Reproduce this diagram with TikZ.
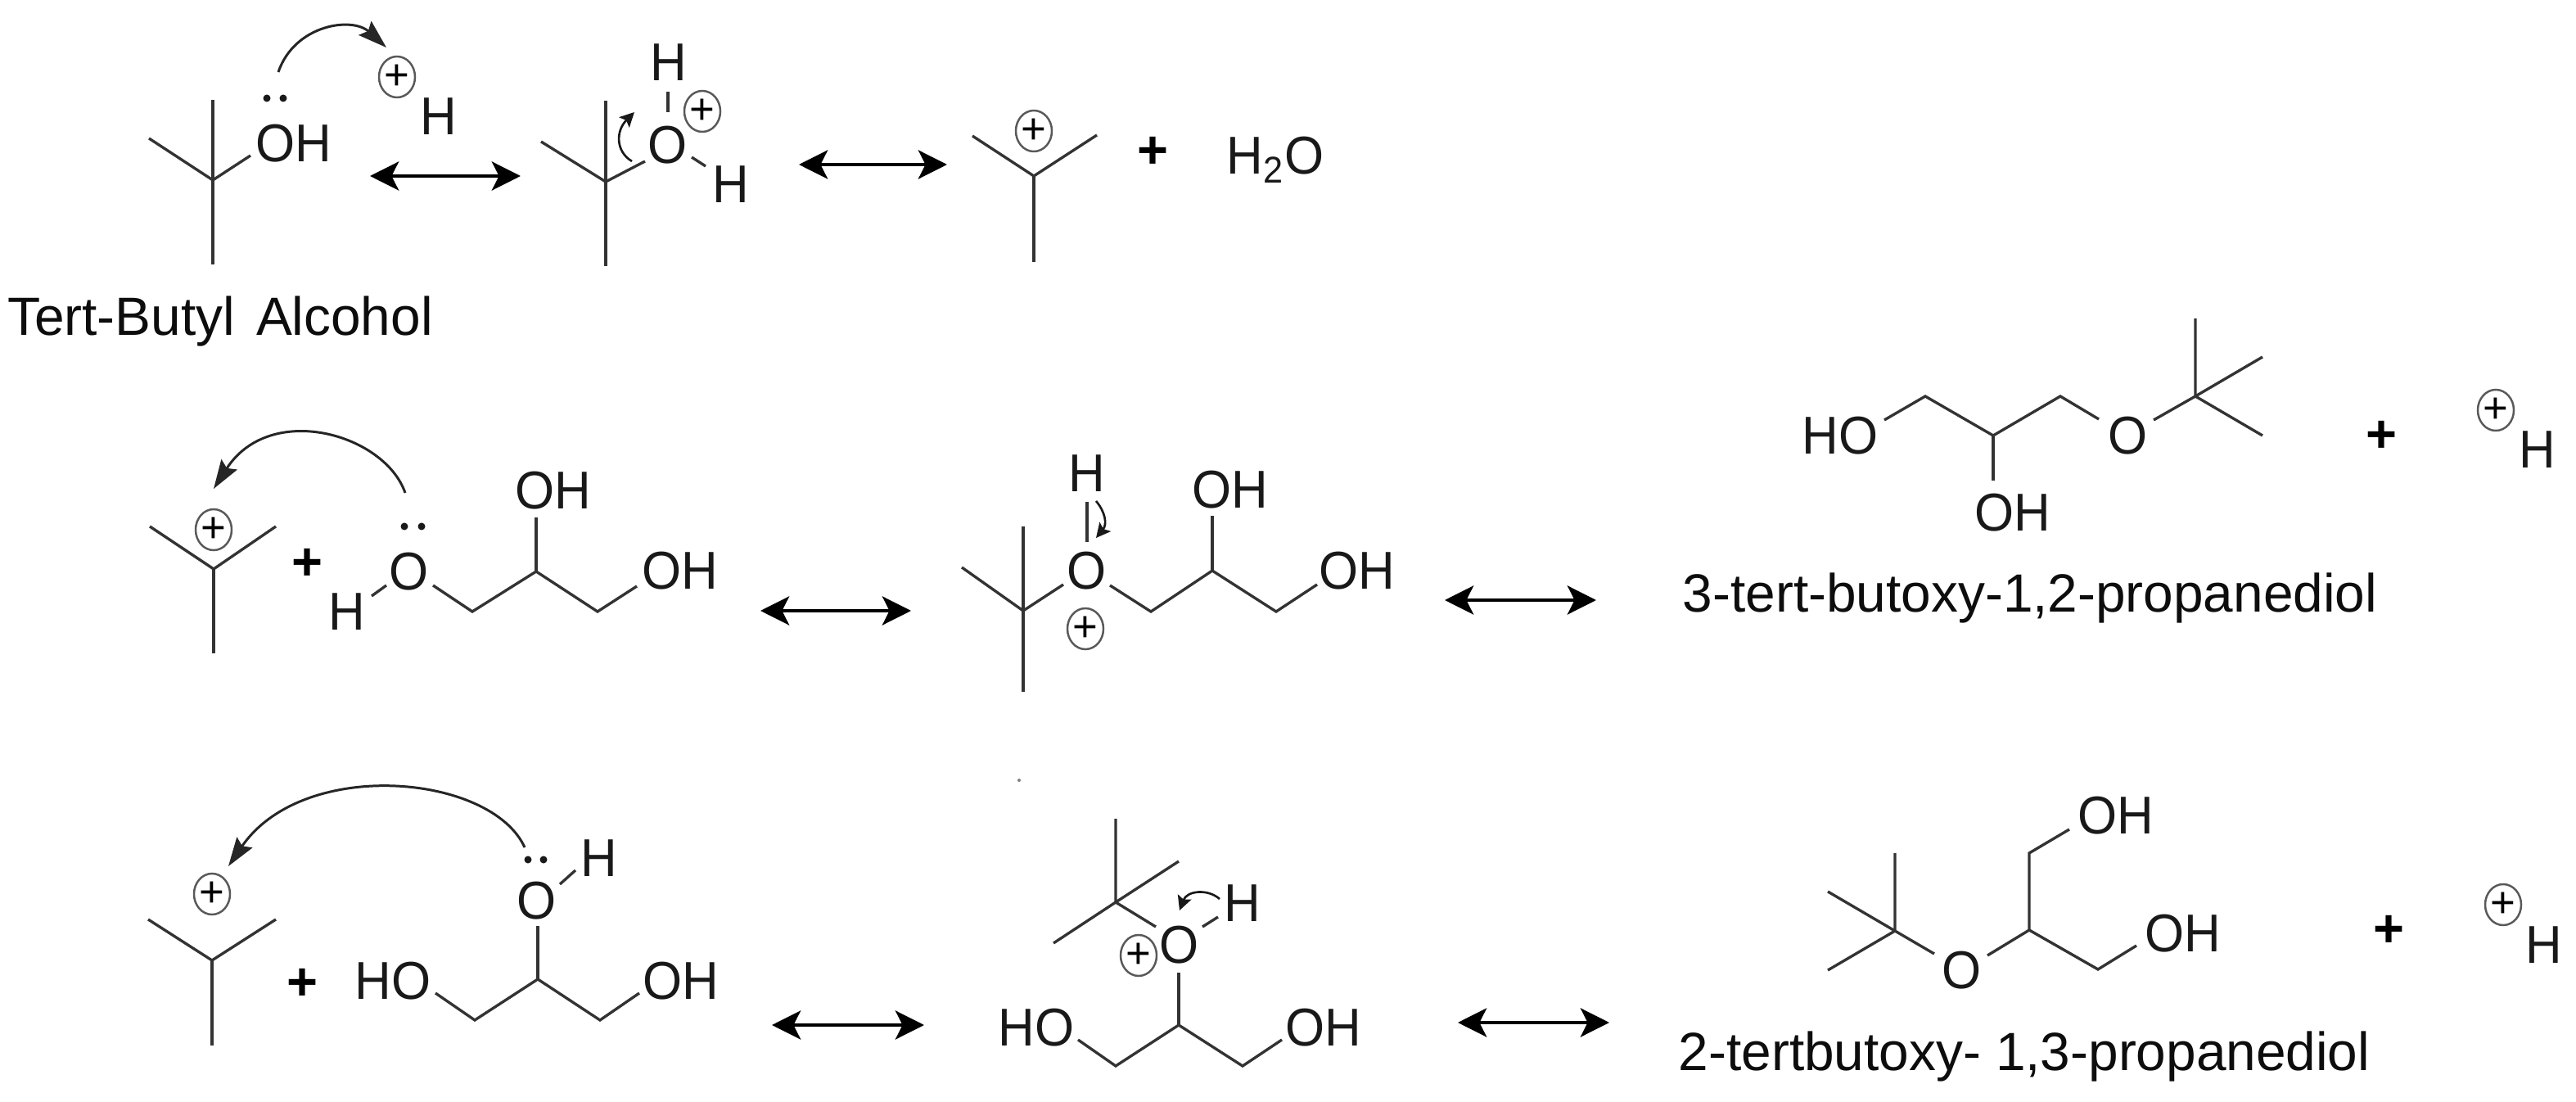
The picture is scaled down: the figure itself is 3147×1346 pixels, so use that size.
\documentclass[tikz,border=0pt]{standalone}
\usepackage{fontspec}
\setmainfont{Liberation Sans}
\newfontfamily\atomfont[FakeStretch=0.95]{Liberation Sans}
\usetikzlibrary{arrows.meta,shapes.geometric}
\newcommand{\chemsize}{\fontsize{18.5pt}{22pt}\selectfont}
\newcommand{\labelsize}{\fontsize{18.7pt}{22pt}\selectfont}
\newcommand{\chgsize}{\fontsize{15pt}{18pt}\selectfont}
\tikzset{
  atomlabel/.style={font=\chemsize\atomfont,inner sep=0pt,outer sep=0pt,anchor=base,text=black!90},
  namelabel/.style={font=\labelsize,inner sep=0pt,outer sep=0pt,anchor=base,text=black!95},
  signlabel/.style={font=\chemsize\bfseries,inner sep=0pt,outer sep=0pt,anchor=center,text=black},
  chg/.style={ellipse,draw=black!65,line width=0.7pt,font=\chgsize,inner sep=0pt,
    minimum width=0.44cm,minimum height=0.50cm,text=black},
  lonepair/.style={circle,fill=black!90,inner sep=0pt,minimum size=0.09cm},
  bond/.style={line width=0.95pt,draw=black!80,line join=miter},
  eq/.style={line width=1.15pt,draw=black,{Stealth[length=10pt,width=10pt,inset=2.5pt]}-{Stealth[length=10pt,width=10pt,inset=2.5pt]}},
  curly/.style={line width=0.85pt,draw=black!85,-{Stealth[length=10pt,width=6.5pt,inset=1.5pt]}},
  curlysmall/.style={line width=0.75pt,draw=black!90,-{Stealth[length=5pt,width=5pt,inset=1pt]}},
}
\begin{document}
\begin{tikzpicture}[x=0.01cm,y=-0.01cm]
\useasboundingbox (0,0) rectangle (3147,1346);
\fill[white] (0,0) rectangle (3147,1346);

% ---------- row 1 ----------
\node[atomlabel] (aOH) at (359,198) {OH};
\node[atomlabel] (aH) at (536,165) {H};
\node[chg] (aC) at (485,94) {+};
\node[lonepair] (aD1) at (326,120) {};
\node[lonepair] (aD2) at (346,120) {};
\node[namelabel] (lblA) at (269,410) {Tert-Butyl\hspace{0.12em} Alcohol};
\coordinate (a0) at (260,220);
\coordinate (a1) at (260,122);
\coordinate (a2) at (260,323);
\coordinate (a3) at (182,169);
\coordinate (a4) at (306,190);
\draw[bond] (a1) -- (a2);
\draw[bond] (a3) -- (a0) -- (a4);
\coordinate (aS) at (340,88);
\coordinate (aT) at (472,58);
\draw[curly] (aS) .. controls (360,30) and (430,20) .. (aT);

\coordinate (e1a) at (452,215);
\coordinate (e1b) at (636,215);
\draw[eq] (e1a) -- (e1b);

\node[atomlabel] (bO) at (816,200) {O};
\node[atomlabel] (bH1) at (817,99) {H};
\node[atomlabel] (bH2) at (893,248) {H};
\node[chg] (bC) at (858,136) {+};
\coordinate (b0) at (740,222);
\coordinate (b1) at (740,123);
\coordinate (b2) at (740,325);
\coordinate (b3) at (661,173);
\coordinate (b4) at (788,197);
\coordinate (b5) at (816,112);
\coordinate (b6) at (816,137);
\coordinate (b7) at (845,192);
\coordinate (b8) at (862,203);
\draw[bond] (b1) -- (b2);
\draw[bond] (b3) -- (b0) -- (b4);
\draw[bond] (b5) -- (b6);
\draw[bond] (b7) -- (b8);
\coordinate (bS) at (772,197);
\coordinate (bT) at (775,137);
\draw[curlysmall] (bS) .. controls (752,185) and (752,160) .. (bT);

\coordinate (e2a) at (976,201);
\coordinate (e2b) at (1157,201);
\draw[eq] (e2a) -- (e2b);

\node[chg] (cC) at (1263,160) {+};
\coordinate (c0) at (1263,215);
\coordinate (c1) at (1188,166);
\coordinate (c2) at (1340,165);
\coordinate (c3) at (1263,320);
\draw[bond] (c1) -- (c0) -- (c2);
\draw[bond] (c0) -- (c3);
\node[signlabel] (cPlus) at (1408,186) {+};
\node[atomlabel] (cW) at (1558,213) {H\textsubscript{2}O};

% ---------- row 2 ----------
\node[chg] (dC) at (261,647) {+};
\coordinate (d0) at (261,695);
\coordinate (d1) at (183,643);
\coordinate (d2) at (337,643);
\coordinate (d3) at (261,798);
\draw[bond] (d1) -- (d0) -- (d2);
\draw[bond] (d0) -- (d3);
\node[signlabel] (dPlus) at (375,689) {+};
\node[atomlabel] (dO) at (500,721) {O};
\node[atomlabel] (dH) at (424,770) {H};
\node[atomlabel] (dOH1) at (676,622) {OH};
\node[atomlabel] (dOH2) at (831,720) {OH};
\node[lonepair] (dD1) at (494,643) {};
\node[lonepair] (dD2) at (515,643) {};
\coordinate (d4) at (454,728);
\coordinate (d5) at (472,715);
\coordinate (d6) at (529,715);
\coordinate (d7) at (577,747);
\coordinate (d8) at (655,698);
\coordinate (d9) at (730,747);
\coordinate (d10) at (778,716);
\coordinate (d11) at (655,632);
\draw[bond] (d4) -- (d5);
\draw[bond] (d6) -- (d7) -- (d8) -- (d9) -- (d10);
\draw[bond] (d8) -- (d11);
\coordinate (dS) at (495,602);
\coordinate (dT) at (261,597);
\draw[curly] (dS) .. controls (470,530) and (330,490) .. (dT);

\coordinate (e3a) at (929,746);
\coordinate (e3b) at (1113,746);
\draw[eq] (e3a) -- (e3b);

\node[atomlabel] (eO) at (1328,720) {O};
\node[atomlabel] (eH) at (1328,601) {H};
\node[atomlabel] (eOH1) at (1503,620) {OH};
\node[atomlabel] (eOH2) at (1658,720) {OH};
\node[chg] (eC) at (1326,768) {+};
\coordinate (e0) at (1250,746);
\coordinate (e1) at (1250,643);
\coordinate (e2) at (1250,845);
\coordinate (e3) at (1175,693);
\coordinate (e4) at (1299,714);
\coordinate (e5) at (1328,613);
\coordinate (e6) at (1328,662);
\coordinate (e7) at (1356,715);
\coordinate (e8) at (1406,747);
\coordinate (e9) at (1481,697);
\coordinate (e10) at (1559,747);
\coordinate (e11) at (1609,714);
\coordinate (e12) at (1481,630);
\draw[bond] (e1) -- (e2);
\draw[bond] (e3) -- (e0) -- (e4);
\draw[bond] (e5) -- (e6);
\draw[bond] (e7) -- (e8) -- (e9) -- (e10) -- (e11);
\draw[bond] (e9) -- (e12);
\coordinate (eS) at (1339,612);
\coordinate (eT) at (1339,657);
\draw[curlysmall] (eS) .. controls (1350,625) and (1353,640) .. (eT);

\coordinate (e4a) at (1765,733);
\coordinate (e4b) at (1950,733);
\draw[eq] (e4a) -- (e4b);

\node[atomlabel] (fHO) at (2248,555) {HO};
\node[atomlabel] (fO) at (2600,555) {O};
\node[atomlabel] (fOH) at (2459,649) {OH};
\coordinate (f0) at (2302,513);
\coordinate (f1) at (2352,484);
\coordinate (f2) at (2435,532);
\coordinate (f3) at (2517,484);
\coordinate (f4) at (2564,512);
\coordinate (f5) at (2631,513);
\coordinate (f6) at (2682,484);
\coordinate (f7) at (2682,389);
\coordinate (f8) at (2764,436);
\coordinate (f9) at (2764,532);
\coordinate (f10) at (2435,587);
\draw[bond] (f0) -- (f1) -- (f2) -- (f3) -- (f4);
\draw[bond] (f5) -- (f6) -- (f7);
\draw[bond] (f6) -- (f8);
\draw[bond] (f6) -- (f9);
\draw[bond] (f2) -- (f10);
\node[signlabel] (fPlus) at (2909,533) {+};
\node[chg] (fC) at (3049,501) {+};
\node[atomlabel] (fH) at (3100,572) {H};
\node[namelabel] (lblF) at (2480,748) {3-tert-butoxy-1,2-propanediol};

% ---------- row 3 ----------
\node[chg] (gC) at (259,1092) {+};
\coordinate (g0) at (259,1173);
\coordinate (g1) at (181,1123);
\coordinate (g2) at (337,1123);
\coordinate (g3) at (259,1277);
\draw[bond] (g1) -- (g0) -- (g2);
\draw[bond] (g0) -- (g3);
\node[signlabel] (gPlus) at (369,1202) {+};
\node[atomlabel] (gHO) at (480,1220) {HO};
\node[atomlabel] (gO) at (656,1122) {O};
\node[atomlabel] (gH) at (732,1070) {H};
\node[atomlabel] (gOH) at (832,1220) {OH};
\node[lonepair] (gD1) at (645,1050) {};
\node[lonepair] (gD2) at (664,1050) {};
\coordinate (g4) at (532,1213);
\coordinate (g5) at (580,1246);
\coordinate (g6) at (657,1196);
\coordinate (g7) at (733,1246);
\coordinate (g8) at (781,1213);
\coordinate (g9) at (657,1131);
\coordinate (g10) at (684,1080);
\coordinate (g11) at (703,1063);
\draw[bond] (g4) -- (g5) -- (g6) -- (g7) -- (g8);
\draw[bond] (g6) -- (g9);
\draw[bond] (g10) -- (g11);
\coordinate (gS) at (641,1035);
\coordinate (gT) at (279,1058);
\draw[curly] (gS) .. controls (600,945) and (370,925) .. (gT);

\coordinate (e5a) at (943,1252);
\coordinate (e5b) at (1129,1252);
\draw[eq] (e5a) -- (e5b);

\fill[black!50] (1245,953) circle[radius=0.02cm];
\node[atomlabel] (hO) at (1441,1176) {O};
\node[atomlabel] (hH) at (1518,1125) {H};
\node[atomlabel] (hHO) at (1266,1277) {HO};
\node[atomlabel] (hOH) at (1617,1277) {OH};
\node[chg] (hC) at (1391,1167) {+};
\coordinate (h0) at (1363,1102);
\coordinate (h1) at (1363,1000);
\coordinate (h2) at (1440,1052);
\coordinate (h3) at (1287,1152);
\coordinate (h4) at (1412,1132);
\coordinate (h5) at (1469,1132);
\coordinate (h6) at (1488,1120);
\coordinate (h7) at (1440,1188);
\coordinate (h8) at (1440,1252);
\coordinate (h9) at (1317,1270);
\coordinate (h10) at (1363,1302);
\coordinate (h11) at (1518,1302);
\coordinate (h12) at (1566,1270);
\draw[bond] (h1) -- (h0) -- (h4);
\draw[bond] (h2) -- (h0) -- (h3);
\draw[bond] (h5) -- (h6);
\draw[bond] (h7) -- (h8);
\draw[bond] (h9) -- (h10) -- (h8) -- (h11) -- (h12);
\coordinate (hS) at (1490,1098);
\coordinate (hT) at (1441,1112);
\draw[curlysmall] (hS) .. controls (1475,1085) and (1450,1088) .. (hT);

\coordinate (e6a) at (1781,1249);
\coordinate (e6b) at (1966,1249);
\draw[eq] (e6a) -- (e6b);

\node[atomlabel] (iOH1) at (2585,1018) {OH};
\node[atomlabel] (iO) at (2397,1207) {O};
\node[atomlabel] (iOH2) at (2667,1162) {OH};
\coordinate (i0) at (2528,1013);
\coordinate (i1) at (2479,1042);
\coordinate (i2) at (2479,1136);
\coordinate (i3) at (2428,1167);
\coordinate (i4) at (2363,1165);
\coordinate (i5) at (2315,1137);
\coordinate (i6) at (2315,1042);
\coordinate (i7) at (2233,1089);
\coordinate (i8) at (2233,1185);
\coordinate (i9) at (2563,1184);
\coordinate (i10) at (2610,1155);
\draw[bond] (i0) -- (i1) -- (i2) -- (i3);
\draw[bond] (i2) -- (i9) -- (i10);
\draw[bond] (i4) -- (i5) -- (i6);
\draw[bond] (i5) -- (i7);
\draw[bond] (i5) -- (i8);
\node[signlabel] (iPlus) at (2918,1137) {+};
\node[chg] (iC) at (3058,1105) {+};
\node[atomlabel] (iH) at (3108,1176) {H};
\node[namelabel] (lblI) at (2473,1307) {2-tertbutoxy- 1,3-propanediol};
\end{tikzpicture}
\end{document}
